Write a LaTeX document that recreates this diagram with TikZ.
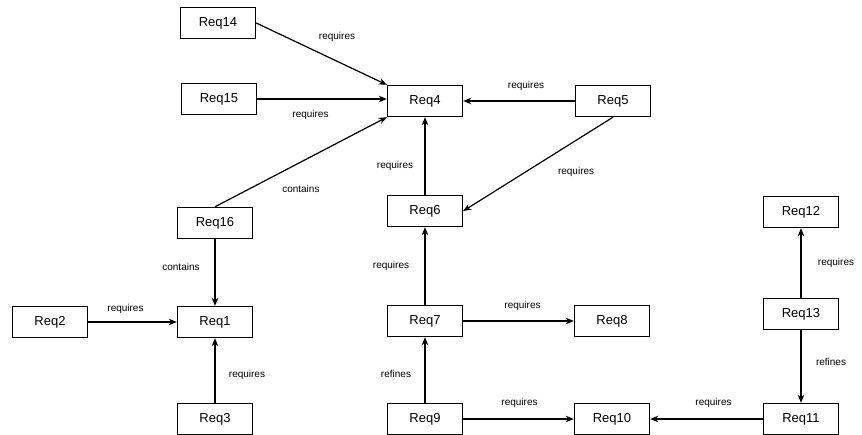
\documentclass[tikz,border=0pt]{standalone}
\usepackage{fontspec}
\setmainfont{Liberation Sans}
\usetikzlibrary{arrows.meta}
\begin{document}
\begin{tikzpicture}[x=1pt,y=-1pt,
  req/.style={draw=black, line width=1.4pt, minimum width=75pt, minimum height=31pt, inner sep=0pt, font=\fontsize{13}{15}\selectfont},
  con/.style={line width=1.2pt, -{Stealth[length=8pt,width=6.5pt]}},
  lbl/.style={font=\fontsize{10}{12}\selectfont, inner sep=0pt}]
\useasboundingbox (0,0) rectangle (862,435);
\node[req] (r14) at (218,23) {Req14};
\node[req] (r15) at (219,99) {Req15};
\node[req] (r4) at (425,101) {Req4};
\node[req] (r5) at (613,101) {Req5};
\node[req] (r6) at (425,211) {Req6};
\node[req] (r16) at (215,223) {Req16};
\node[req] (r1) at (215,322) {Req1};
\node[req] (r2) at (50,322) {Req2};
\node[req] (r3) at (215,419) {Req3};
\node[req] (r7) at (425,321) {Req7};
\node[req] (r8) at (612,321) {Req8};
\node[req] (r9) at (425,419) {Req9};
\node[req] (r10) at (612,419) {Req10};
\node[req] (r11) at (801,419) {Req11};
\node[req] (r12) at (801,212) {Req12};
\node[req] (r13) at (801,314) {Req13};

\draw[con] (r14.east) -- (r4.north west) node[lbl, pos=0.5, xshift=15.5pt, yshift=17pt] {requires};
\draw[con] (r15.east) -- (r4.west |- r15.east) node[lbl, pos=0.5, xshift=-11.5pt, yshift=-16pt] {requires};
\draw[con] (r16.north) -- (r4.south west) node[lbl, pos=0.5, xshift=0pt, yshift=-27pt] {contains};
\draw[con] (r5.west) -- (r4.east) node[lbl, pos=0.5, xshift=7pt, yshift=15pt] {requires};
\draw[con] (r6.north) -- (r4.south) node[lbl, pos=0.5, xshift=-30pt, yshift=-10pt] {requires};
\draw[con] (r5.south) -- (r6.east) node[lbl, pos=0.5, xshift=38pt, yshift=-8pt] {requires};
\draw[con] (r16.south) -- (r1.north) node[lbl, pos=0.5, xshift=-34pt, yshift=6pt] {contains};
\draw[con] (r2.east) -- (r1.west) node[lbl, pos=0.5, xshift=-7pt, yshift=13pt] {requires};
\draw[con] (r3.north) -- (r1.south) node[lbl, pos=0.5, xshift=32pt, yshift=-4pt] {requires};
\draw[con] (r7.north) -- (r6.south) node[lbl, pos=0.5, xshift=-34pt, yshift=0pt] {requires};
\draw[con] (r7.east) -- (r8.west) node[lbl, pos=0.5, xshift=4pt, yshift=15pt] {requires};
\draw[con] (r9.north) -- (r7.south) node[lbl, pos=0.5, xshift=-29pt, yshift=-4pt] {refines};
\draw[con] (r9.east) -- (r10.west) node[lbl, pos=0.5, xshift=1pt, yshift=16pt] {requires};
\draw[con] (r11.west) -- (r10.east) node[lbl, pos=0.5, xshift=7pt, yshift=16pt] {requires};
\draw[con] (r13.north) -- (r12.south) node[lbl, pos=0.5, xshift=35pt, yshift=0pt] {requires};
\draw[con] (r13.south) -- (r11.north) node[lbl, pos=0.5, xshift=30pt, yshift=5pt] {refines};
\end{tikzpicture}
\end{document}
